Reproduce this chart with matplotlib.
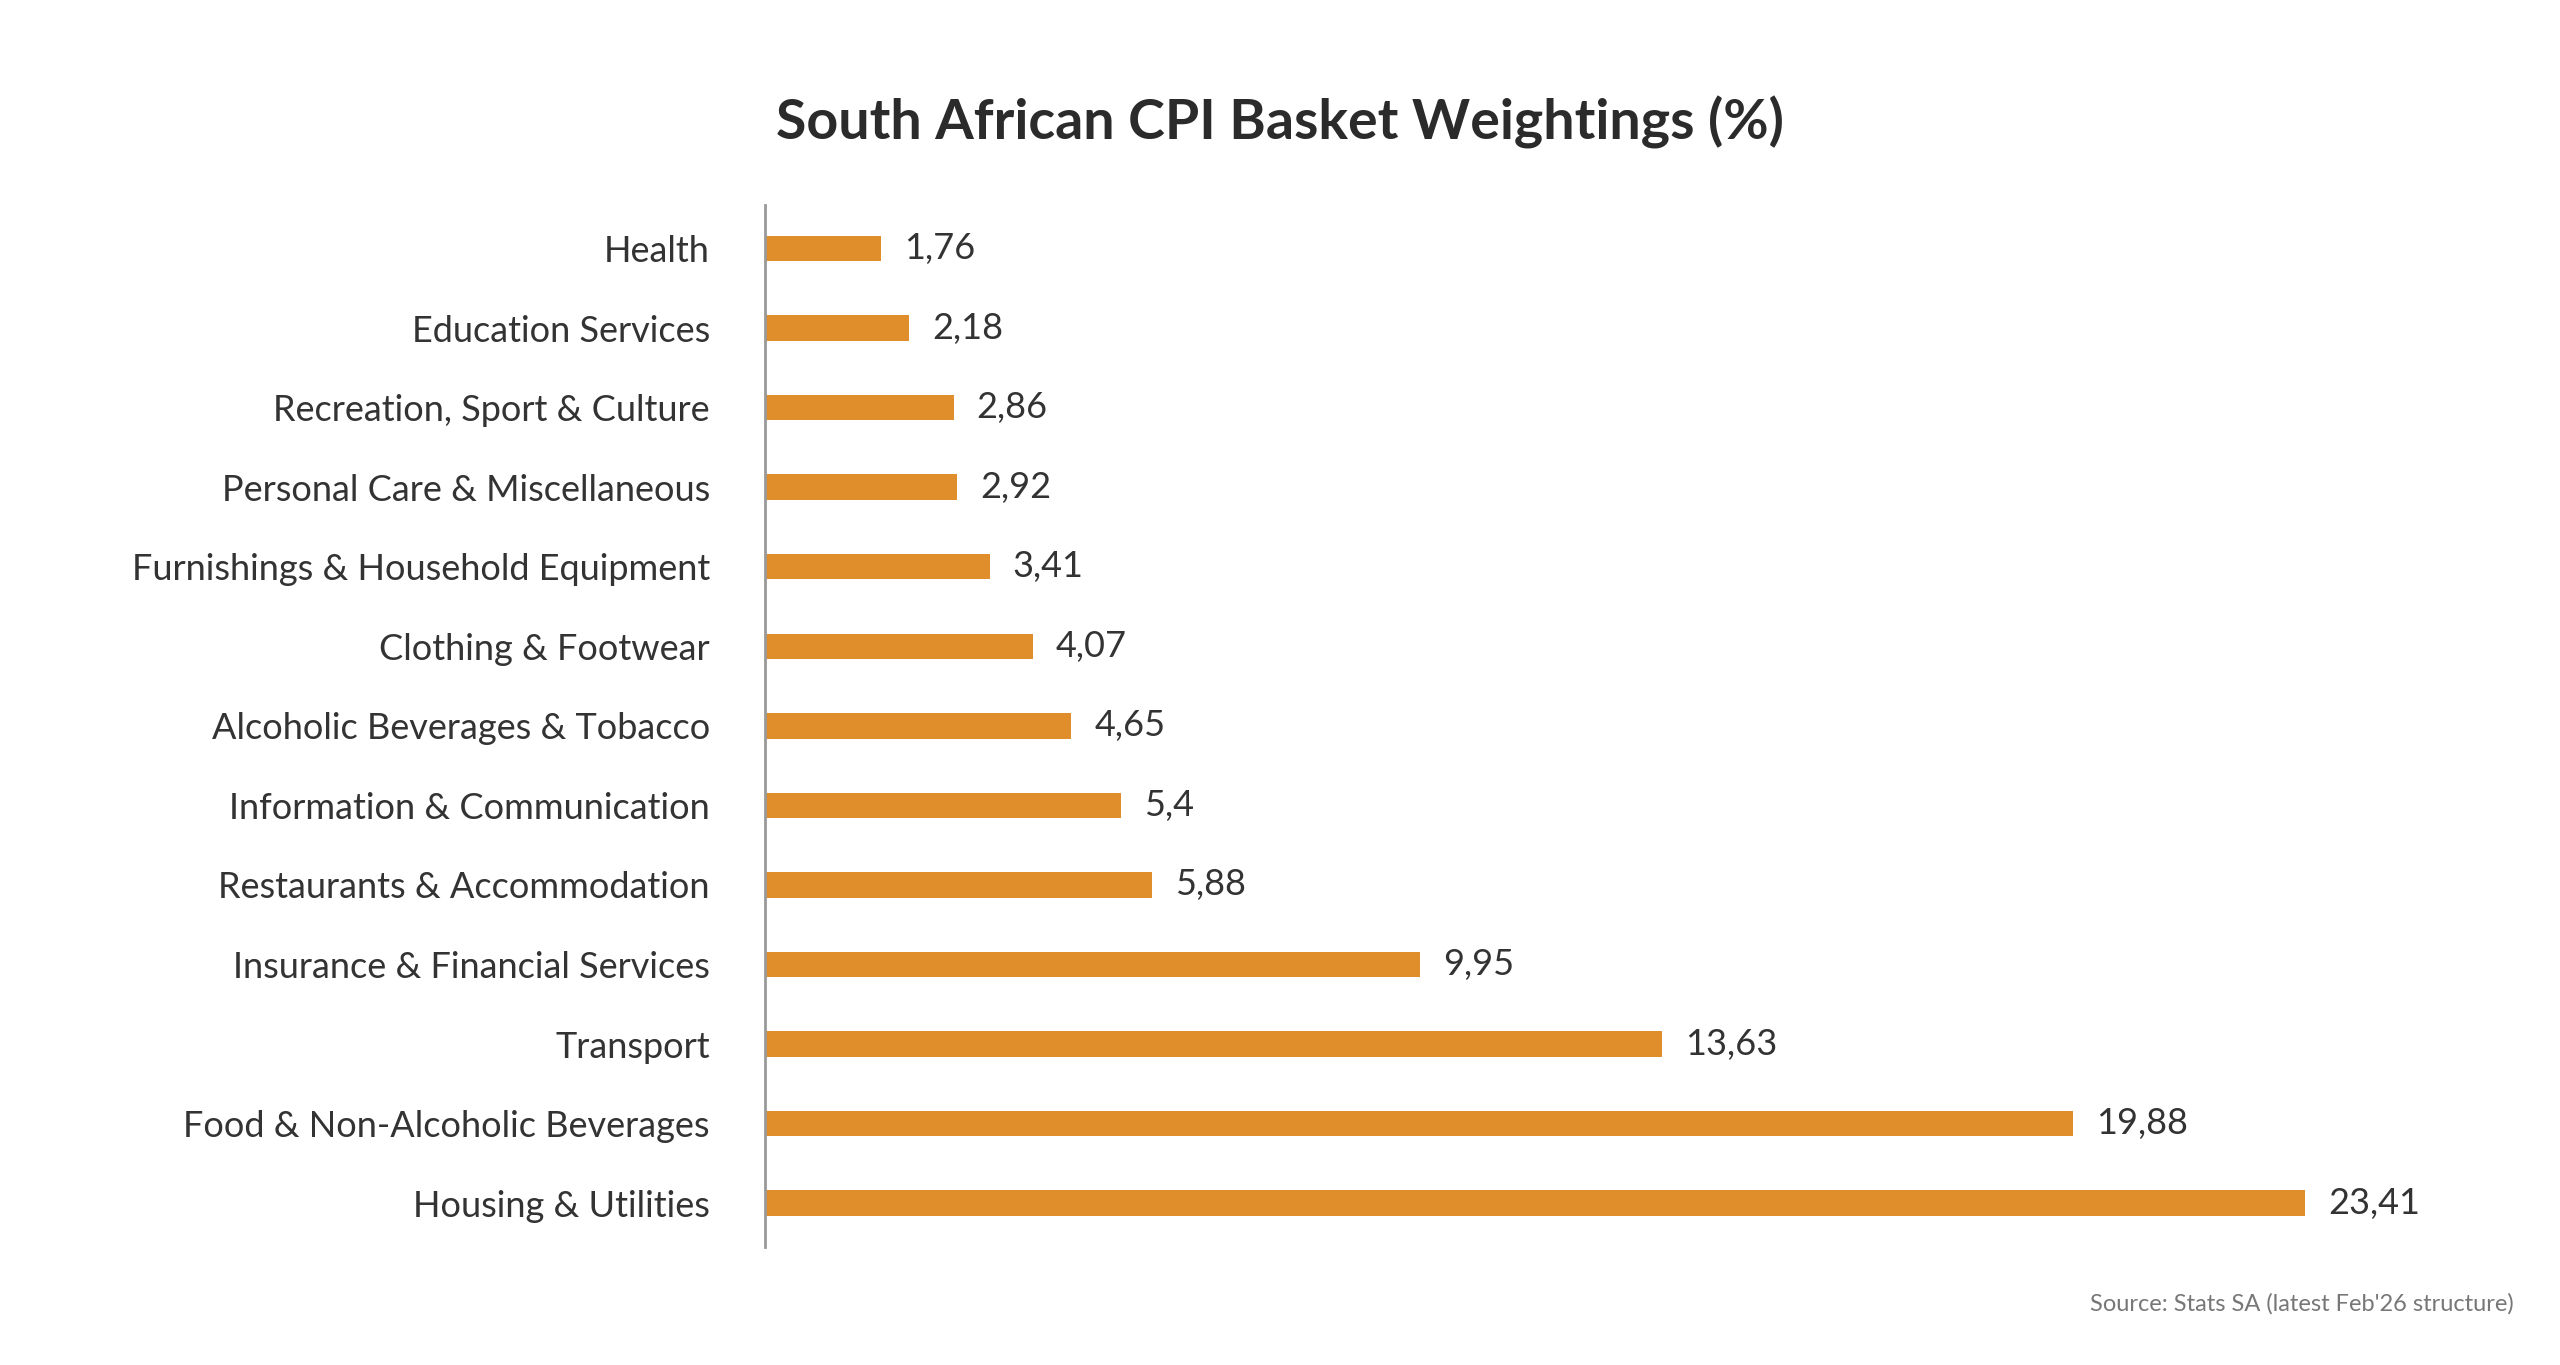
import matplotlib
matplotlib.use("Agg")
import matplotlib.pyplot as plt

categories = ["Health", "Education Services", "Recreation, Sport & Culture",
              "Personal Care & Miscellaneous", "Furnishings & Household Equipment",
              "Clothing & Footwear", "Alcoholic Beverages & Tobacco",
              "Information & Communication", "Restaurants & Accommodation",
              "Insurance & Financial Services", "Transport",
              "Food & Non-Alcoholic Beverages", "Housing & Utilities"]
values = [1.76, 2.18, 2.86, 2.92, 3.41, 4.07, 4.65, 5.4, 5.88, 9.95, 13.63, 19.88, 23.41]
value_labels = ["1,76", "2,18", "2,86", "2,92", "3,41", "4,07", "4,65", "5,4", "5,88",
                "9,95", "13,63", "19,88", "23,41"]

plt.rcParams['font.family'] = ['Lato', 'DejaVu Sans']
fig = plt.figure(figsize=(25.6, 13.65), dpi=100)
ax = fig.add_axes([0.299, 0.0865, 0.682, 0.7635])
y = list(range(len(categories)))
ax.barh(y, values, height=0.32, color="#E08E2B")
ax.set_ylim(len(categories) - 0.45, -0.55)
ax.set_xlim(0, 26.55)
ax.set_yticks(y)
ax.set_yticklabels(categories, fontsize=26, color="#333333")
ax.tick_params(axis='y', length=0, pad=40)
ax.set_xticks([])
for s in ["top", "right", "bottom"]:
    ax.spines[s].set_visible(False)
ax.spines["left"].set_color("#999999")
ax.spines["left"].set_linewidth(2)
for yi, v, t in zip(y, values, value_labels):
    ax.text(v + 0.35, yi, t, va="center", ha="left", fontsize=26, color="#333333")
fig.text(0.5, 0.91, "South African CPI Basket Weightings (%)", ha="center", va="center",
         fontsize=40, fontweight="bold", color="#2b2b2b")
fig.text(0.982, 0.045, "Source: Stats SA (latest Feb'26 structure)", ha="right", va="center",
         fontsize=17, color="#777777")
fig.savefig("out.png", dpi=100, facecolor="white")
